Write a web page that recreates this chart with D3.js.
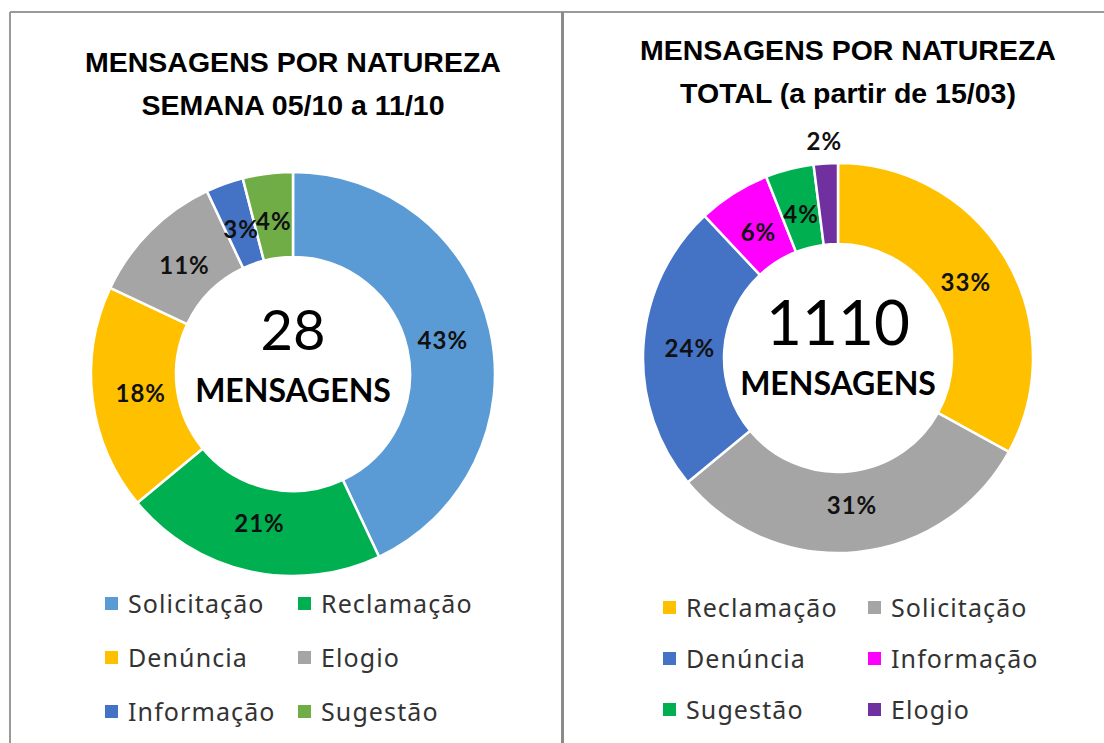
<!DOCTYPE html>
<html>
<head>
<meta charset="utf-8">
<script src="https://cdn.jsdelivr.net/npm/d3@7"></script>
<style>
  body { margin: 0; background: #fff; }
  svg { display: block; }
</style>
</head>
<body>
<div id="chart"></div>
<script>
// semana 05/10 a 11/10
var weekCats = ["Solicitação", "Reclamação", "Denúncia", "Elogio", "Informação", "Sugestão"];
var weekVals = [43, 21, 18, 11, 3, 4];
var weekColors = ["#5B9BD5", "#00B050", "#FFC000", "#A5A5A5", "#4472C4", "#70AD47"];
var weekTotal = "28";

// total a partir de 15/03
var totalCats = ["Reclamação", "Solicitação", "Denúncia", "Informação", "Sugestão", "Elogio"];
var totalVals = [33, 31, 24, 6, 4, 2];
var totalColors = ["#FFC000", "#A5A5A5", "#4472C4", "#FF00FF", "#00B050", "#7030A0"];
var totalTotal = "1110";

var W = 1104, H = 743;

var svg = d3.select("#chart").append("svg")
    .attr("width", W)
    .attr("height", H);

// frame lines
svg.append("line").attr("x1", 10).attr("x2", W).attr("y1", 12).attr("y2", 12)
    .attr("stroke", "#9a9a9a").attr("stroke-width", 2);
svg.append("line").attr("x1", 10).attr("x2", 10).attr("y1", 12).attr("y2", H)
    .attr("stroke", "#9a9a9a").attr("stroke-width", 2);
svg.append("line").attr("x1", 562.5).attr("x2", 562.5).attr("y1", 12).attr("y2", H)
    .attr("stroke", "#8a8a8a").attr("stroke-width", 3);

var titleFont = "'Liberation Sans', Arial, sans-serif";
var labelFont = "Lato, 'Open Sans', sans-serif";
var legendFont = "'Noto Sans', 'Open Sans', sans-serif";

function donut(opts) {
  var g = svg.append("g");

  // title
  g.selectAll("text.title")
    .data(opts.title)
    .enter()
    .append("text")
    .attr("class", "title")
    .attr("x", opts.titleX)
    .attr("y", function(d, i) { return opts.titleY + i * 43; })
    .attr("text-anchor", "middle")
    .attr("font-family", titleFont)
    .attr("font-weight", "bold")
    .attr("font-size", "28.5px")
    .attr("fill", "#000")
    .text(function(d) { return d; });

  var pie = d3.pie().sort(null).value(function(d) { return d; });
  var arcs = pie(opts.vals);
  var arc = d3.arc().innerRadius(opts.r0).outerRadius(opts.r1);
  var mid = d3.arc().innerRadius((opts.r0 + opts.r1) / 2 - 6).outerRadius((opts.r0 + opts.r1) / 2 - 6);
  var outside = d3.arc().innerRadius(opts.r1 + 22).outerRadius(opts.r1 + 22);

  var c = g.append("g")
    .attr("transform", "translate(" + opts.cx + "," + opts.cy + ")");

  c.selectAll("path")
    .data(arcs)
    .enter()
    .append("path")
    .attr("d", arc)
    .attr("fill", function(d, i) { return opts.colors[i]; })
    .attr("stroke", "#fff")
    .attr("stroke-width", 2.5);

  c.selectAll("text.pct")
    .data(arcs)
    .enter()
    .append("text")
    .attr("class", "pct")
    .attr("transform", function(d) {
      var p = (d.value < 3 ? outside : mid).centroid(d);
      return "translate(" + p[0] + "," + p[1] + ")";
    })
    .attr("text-anchor", "middle")
    .attr("dy", "0.35em")
    .attr("font-family", labelFont)
    .attr("font-weight", "bold")
    .attr("font-size", "24px")
    .attr("letter-spacing", "1px")
    .attr("fill", "#111")
    .text(function(d) { return d.value + "%"; });

  c.append("text")
    .attr("x", 0)
    .attr("y", opts.bigY)
    .attr("text-anchor", "middle")
    .attr("font-family", labelFont)
    .attr("font-size", opts.bigSize)
    .attr("fill", "#000")
    .text(opts.total);

  c.append("text")
    .attr("x", 0)
    .attr("y", opts.subY)
    .attr("text-anchor", "middle")
    .attr("font-family", labelFont)
    .attr("font-weight", "bold")
    .attr("font-size", "32px")
    .attr("fill", "#000")
    .text("MENSAGENS");

  // legend, two columns
  var leg = g.selectAll("g.leg")
    .data(opts.cats)
    .enter()
    .append("g")
    .attr("class", "leg")
    .attr("transform", function(d, i) {
      var x = opts.legX[i % 2];
      var y = opts.legY + Math.floor(i / 2) * opts.legStep;
      return "translate(" + x + "," + y + ")";
    });

  leg.append("rect")
    .attr("x", 0)
    .attr("y", -7)
    .attr("width", 13)
    .attr("height", 13)
    .attr("fill", function(d, i) { return opts.colors[i]; });

  leg.append("text")
    .attr("x", 23)
    .attr("y", 0)
    .attr("dy", "0.35em")
    .attr("font-family", legendFont)
    .attr("font-size", "25px")
    .attr("letter-spacing", "1.1px")
    .attr("fill", "#333")
    .text(function(d) { return d; });
}

donut({
  title: ["MENSAGENS POR NATUREZA", "SEMANA 05/10 a 11/10"],
  titleX: 293, titleY: 72,
  cats: weekCats, vals: weekVals, colors: weekColors, total: weekTotal,
  cx: 293, cy: 374, r0: 117, r1: 202, bigSize: "56px", bigY: -24, subY: 28,
  legX: [105, 298], legY: 604, legStep: 54
});

donut({
  title: ["MENSAGENS POR NATUREZA", "TOTAL (a partir de 15/03)"],
  titleX: 848, titleY: 60,
  cats: totalCats, vals: totalVals, colors: totalColors, total: totalTotal,
  cx: 838, cy: 358, r0: 114, r1: 195, bigSize: "62px", bigY: -13, subY: 37,
  legX: [663, 868], legY: 608, legStep: 51
});
</script>
</body>
</html>
